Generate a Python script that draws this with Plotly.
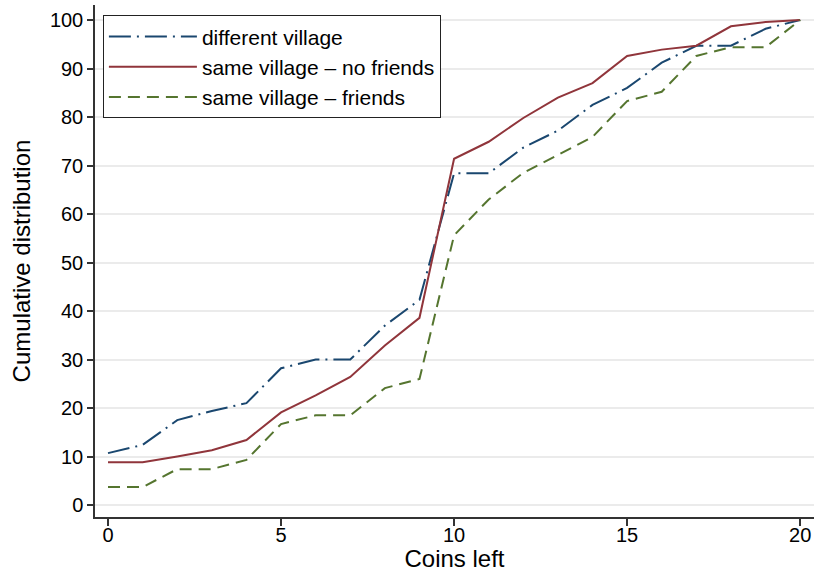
import plotly.graph_objects as go

coins = list(range(21))
different_village = [10.7, 12.4, 17.5, 19.4, 21.0, 28.2, 30.0, 30.0, 37.0, 42.3,
                     68.4, 68.4, 73.7, 77.2, 82.5, 86.0, 91.2, 94.7, 94.7, 98.2, 100.0]
same_no_friends = [8.8, 8.8, 10.0, 11.3, 13.4, 19.1, 22.6, 26.4, 32.9, 38.6,
                   71.4, 74.9, 79.8, 84.0, 87.0, 92.6, 93.9, 94.7, 98.7, 99.6, 100.0]
same_friends = [3.7, 3.7, 7.4, 7.4, 9.3, 16.7, 18.5, 18.5, 24.1, 26.0,
                55.6, 63.0, 68.5, 72.2, 75.9, 83.3, 85.2, 92.6, 94.4, 94.4, 100.0]

series_names = ["different village", "same village \u2013 no friends", "same village \u2013 friends"]
colors = ["#1a476f", "#90353b", "#55752f"]
dashes = ["22px,6px,2px,6px", "solid", "12px,7px"]

x_ticks = [0, 5, 10, 15, 20]
y_ticks = [0, 10, 20, 30, 40, 50, 60, 70, 80, 90, 100]

fig = go.Figure()
for name, vals, c, d in zip(series_names, [different_village, same_no_friends, same_friends], colors, dashes):
    fig.add_trace(go.Scatter(x=coins, y=vals, mode="lines", name=name,
                             line=dict(color=c, width=2, dash=d)))

font = "Liberation Sans, Arial, Helvetica, sans-serif"
fig.update_layout(
    width=814, height=572,
    margin=dict(l=95, r=0, t=5, b=55, autoexpand=False),
    paper_bgcolor="white", plot_bgcolor="white",
    font=dict(family=font, size=20, color="black"),
    showlegend=True,
    legend=dict(x=0.011, y=0.98, xanchor="left", yanchor="top",
                bgcolor="white", bordercolor="#222", borderwidth=1,
                font=dict(size=21), itemwidth=88, tracegroupgap=0),
    xaxis=dict(range=[-0.376, 20.4], tickvals=x_ticks, showgrid=False,
               zeroline=False, showline=True, linecolor="#333", linewidth=1.5,
               ticks="outside", ticklen=7, tickcolor="#333", tickwidth=1.5,
               ticklabelstandoff=-8,
               automargin=True,
               title=dict(text="Coins left", standoff=7),
               tickfont=dict(size=20)),
    yaxis=dict(range=[-2.47, 103.1], tickvals=y_ticks, showgrid=True,
               gridcolor="#ebebeb", gridwidth=1.5,
               zeroline=False, showline=True, linecolor="#333", linewidth=1.5,
               ticks="outside", ticklen=6, tickcolor="#333", tickwidth=1.5,
               automargin=True,
               title=dict(text="Cumulative distribution", standoff=12),
               tickfont=dict(size=20)),
)

fig.write_html("out.html", config={"displayModeBar": False},
               post_script="document.body.style.margin='0';document.body.style.padding='0';")
